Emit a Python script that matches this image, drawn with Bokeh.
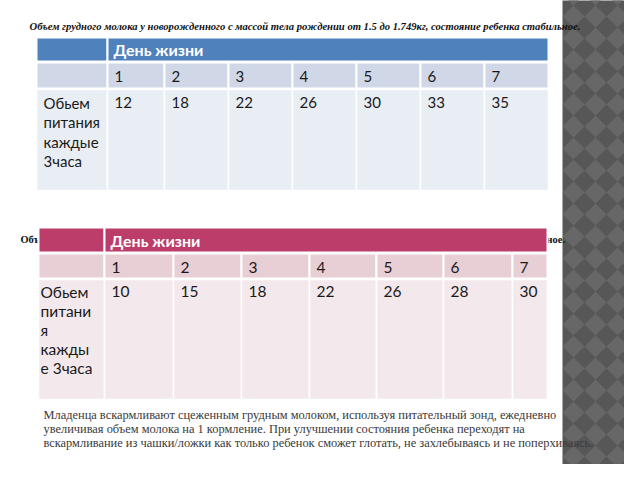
import numpy as np
from bokeh.plotting import figure
from bokeh.models import Range1d
from bokeh.core.properties import value
from bokeh.embed import file_html
from bokeh.resources import INLINE

# ---------------- data ----------------
days = ["1", "2", "3", "4", "5", "6", "7"]
volume_1 = [12, 18, 22, 26, 30, 33, 35]      # 1.5 - 1.749 kg
volume_2 = [10, 15, 18, 22, 26, 28, 30]      # second group
header_1 = "День  жизни"
header_2 = "День жизни"
row_label_1 = ["Обьем", "питания", "каждые", "3часа"]
row_label_2 = ["Обьем", "питани", "я", "кажды", "е 3часа"]
title_1 = ("Объем грудного молока у новорожденного с массой тела рождении "
           "от 1.5 до 1.749кг, состояние ребенка стабильное.")
title_2 = ("Объем грудного молока у новорожденного с массой тела рождении "
           "от 1.25 до 1.499кг, состояние ребенка стабильное.")
note_lines = [
    "Младенца вскармливают сцеженным грудным молоком, используя питательный зонд, ежедневно",
    "увеличивая объем молока на 1 кормление. При улучшении состояния ребенка переходят на",
    "вскармливание из чашки/ложки как только ребенок сможет глотать, не захлебываясь и не поперхиваясь.",
]

# ---------------- layout ----------------
p = figure(width=624, height=464, output_backend="svg", toolbar_location=None,
           x_range=Range1d(8, 632), y_range=Range1d(472, 8),
           min_border=0, background_fill_color="white", border_fill_color="white")
p.axis.visible = False
p.grid.visible = False
p.outline_line_color = None

# decorative right strip with diamond pattern
p.quad(left=[570], right=[640], top=[0], bottom=[480], fill_color="#575757", line_color=None)
gx, gy = np.meshgrid(np.arange(581, 660, 22), np.arange(2, 500, 22))
p.scatter(gx.ravel(), gy.ravel(), marker="square", size=15.6, angle=np.pi / 4,
          fill_color="#676767", line_color=None)

serif = value("Liberation Serif")
# titles
p.text(x=[37], y=[34], text=[title_1], text_font=serif, text_font_size="10.6px",
       text_font_style="bold italic", text_color="#111111", text_baseline="middle")
p.text(x=[28], y=[247], text=[title_2], text_font=serif, text_font_size="10.4px",
       text_font_style="bold", text_color="#111111", text_baseline="middle")


def draw_table(edges, rows, colors, header, values, labels, label_y, font, hdr_style,
               hdr_size, body_size, label_x):
    left0 = edges[0]
    right0 = edges[-1]
    (h_top, h_bot), (d_top, d_bot), (v_top, v_bot) = rows
    c_hdr, c_day, c_val = colors
    # header row: label cell + merged cell
    p.quad(left=[left0, edges[1]], right=[edges[1], right0], top=[h_top, h_top],
           bottom=[h_bot, h_bot], fill_color=c_hdr, line_color="white", line_width=2)
    # day row and value row
    lefts = edges[:-1]
    rights = edges[1:]
    n = len(lefts)
    p.quad(left=lefts, right=rights, top=[d_top] * n, bottom=[d_bot] * n,
           fill_color=c_day, line_color="white", line_width=2)
    p.quad(left=lefts, right=rights, top=[v_top] * n, bottom=[v_bot] * n,
           fill_color=c_val, line_color="white", line_width=1.5)
    p.text(x=[edges[1] + 6], y=[(h_top + h_bot) / 2], text=[header], text_font=font,
           text_font_size=hdr_size, text_font_style=hdr_style, text_color="white",
           text_baseline="middle")
    xs = [e + 7 for e in edges[1:-1]]
    p.text(x=xs, y=[(d_top + d_bot) / 2 + 1] * len(days), text=days, text_font=font,
           text_font_size=body_size, text_color="#1a1a1a", text_baseline="middle")
    p.text(x=xs, y=[label_y[0]] * len(values), text=[str(v) for v in values],
           text_font=font, text_font_size=body_size, text_color="#1a1a1a",
           text_baseline="middle")
    p.text(x=[label_x] * len(labels), y=label_y, text=labels, text_font=font,
           text_font_size=body_size, text_color="#1a1a1a", text_baseline="middle")


draw_table(edges=[44, 115, 172, 236, 300, 364, 428, 492, 556],
           rows=[(45, 69), (70, 96), (97, 198)],
           colors=["#4F81BD", "#D0D8E8", "#E9EDF4"],
           header=header_1, values=volume_1, labels=row_label_1,
           label_y=[110, 129.5, 149, 168.5], font=value("Lato"), hdr_style="bold",
           hdr_size="16px", body_size="15px", label_x=51)

draw_table(edges=[46, 112, 181, 249, 317, 384, 451, 520, 555],
           rows=[(235, 260), (261, 286), (287, 407)],
           colors=["#BD3D6A", "#E8CED5", "#F3E8EB"],
           header=header_2, values=volume_2, labels=row_label_2,
           label_y=[299, 318, 337, 356, 375], font=value("Lato"), hdr_style="bold",
           hdr_size="16px", body_size="15.5px", label_x=48)

# bottom note
p.text(x=[51] * 3, y=[422, 436, 450.5], text=note_lines, text_font=serif,
       text_font_size="12.4px", text_color="#3a3a3a", text_baseline="middle")

open("out.html", "w").write(file_html(p, INLINE))
